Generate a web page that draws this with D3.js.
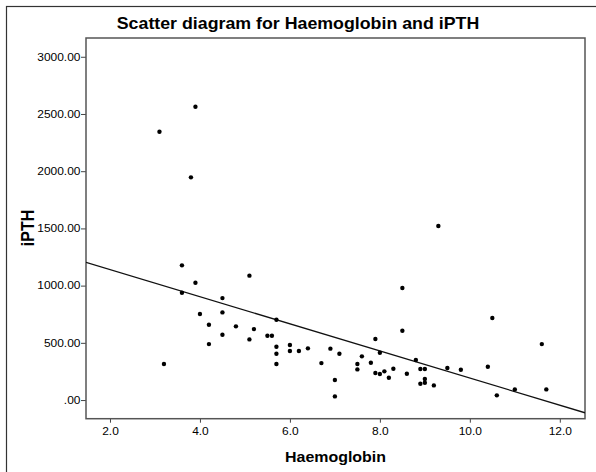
<!DOCTYPE html>
<html>
<head>
<meta charset="utf-8">
<script src="https://cdn.jsdelivr.net/npm/d3@7"></script>
<style>
  body { margin: 0; background: #fff; }
  text { font-family: "Liberation Sans", Arial, sans-serif; fill: #000; }
</style>
</head>
<body>
<svg id="chart"></svg>
<script>
// Haemoglobin (g/dl) and iPTH
var hb = [3.1, 3.9, 3.8, 3.6, 5.1, 3.9, 3.6, 4.5, 4.0, 4.5,
          4.2, 4.8, 5.2, 4.5, 5.1, 4.2, 3.2, 5.7, 5.5, 5.6,
          5.7, 5.7, 5.7, 6.0, 6.0, 6.2, 6.4, 6.7, 6.9, 7.1,
          7.0, 7.0, 7.5, 7.5, 7.6, 7.8, 7.9, 8.0, 7.9, 8.0,
          8.1, 8.2, 8.3, 8.5, 8.5, 8.6, 8.8, 8.9, 9.0, 9.0,
          9.0, 8.9, 9.2, 9.5, 9.8, 10.5, 10.4, 10.6, 11.0, 11.6,
          11.7, 9.3];
var ipth = [2345, 2563, 1946, 1177, 1087, 1025, 938, 891, 752, 766,
            658, 644, 620, 571, 530, 489, 315, 702, 562, 562,
            466, 405, 315, 481, 428, 428, 452, 323, 449, 405,
            175, 32, 315, 268, 382, 326, 533, 414, 236, 227,
            251, 195, 274, 979, 606, 230, 350, 271, 271, 184,
            151, 143, 128, 280, 265, 717, 291, 41, 93, 489,
            93, 1521];

var xTicks = [2, 4, 6, 8, 10, 12];
var xTickLabels = ["2.0", "4.0", "6.0", "8.0", "10.0", "12.0"];
var yTicks = [0, 500, 1000, 1500, 2000, 2500, 3000];
var yTickLabels = [".00", "500.00", "1000.00", "1500.00", "2000.00", "2500.00", "3000.00"];

// fit line: intercept, slope
var fit = [1377, -118.5];

var W = 596, H = 472;
var sx = 1.14; // the original picture is a bit wide

var margin = {top: 38, left: 86},
    width = 499,
    height = 380.7;

var svg = d3.select("#chart")
  .attr("width", W)
  .attr("height", H);

// outer frame, runs off the right and bottom
svg.append("rect")
  .attr("x", 6.5).attr("y", 6.5)
  .attr("width", 620).attr("height", 500)
  .attr("fill", "none")
  .attr("stroke", "#333")
  .attr("stroke-width", 1.2);

svg.append("text")
  .attr("transform", "translate(298,29.3) scale(" + sx + ",1)")
  .attr("text-anchor", "middle")
  .style("font-size", "15.6px")
  .style("font-weight", "bold")
  .text("Scatter diagram for Haemoglobin and iPTH");

var g = svg.append("g").attr("transform", "translate(" + margin.left + "," + margin.top + ")");

var x = d3.scaleLinear().domain([1.467, 12.56]).range([0, width]);
var y = d3.scaleLinear().domain([-163, 3164]).range([height, 0]);

var xAxis = g.append("g")
  .attr("transform", "translate(0," + height + ")")
  .call(d3.axisBottom(x).tickValues(xTicks)
    .tickFormat(function(d, i) { return xTickLabels[i]; })
    .tickSize(4));
xAxis.select(".domain").remove();
xAxis.selectAll("line").attr("stroke", "#444");
xAxis.selectAll("text")
  .attr("y", 16.3).attr("dy", null)
  .attr("transform", "scale(" + sx + ",1)")
  .attr("font-size", null).attr("font-family", null)
  .style("font-size", "10.5px");
xAxis.attr("font-family", null).attr("font-size", null);
xAxis.selectAll(".tick").each(function() {
  // scale around the tick centre
  d3.select(this).select("text").attr("x", 0);
});

var yAxis = g.append("g")
  .call(d3.axisLeft(y).tickValues(yTicks)
    .tickFormat(function(d, i) { return yTickLabels[i]; })
    .tickSize(5));
yAxis.select(".domain").remove();
yAxis.attr("font-family", null).attr("font-size", null);
yAxis.selectAll("line").attr("stroke", "#444");
yAxis.selectAll("text")
  .attr("x", -5.5 / sx)
  .attr("transform", "scale(" + sx + ",1)")
  .style("font-size", "10.5px");

// plot box
g.append("rect")
  .attr("width", width).attr("height", height)
  .attr("fill", "none")
  .attr("stroke", "#555")
  .attr("stroke-width", 1.5);

g.append("clipPath").attr("id", "clip")
  .append("rect").attr("width", width).attr("height", height);

var xd = x.domain();
g.append("line")
  .attr("clip-path", "url(#clip)")
  .attr("x1", x(xd[0])).attr("y1", y(fit[0] + fit[1] * xd[0]))
  .attr("x2", x(xd[1])).attr("y2", y(fit[0] + fit[1] * xd[1]))
  .attr("stroke", "#111")
  .attr("stroke-width", 1.3);

g.selectAll(".dot")
  .data(d3.range(hb.length))
  .enter().append("circle")
    .attr("class", "dot")
    .attr("cx", function(i) { return x(hb[i]); })
    .attr("cy", function(i) { return y(ipth[i]); })
    .attr("r", 2.2)
    .attr("fill", "#000");

svg.append("text")
  .attr("transform", "translate(335.5,461.7) scale(" + sx + ",1)")
  .attr("text-anchor", "middle")
  .style("font-size", "14px")
  .style("font-weight", "bold")
  .text("Haemoglobin");

svg.append("text")
  .attr("transform", "translate(34,228) scale(" + sx + ",1) rotate(-90)")
  .attr("text-anchor", "middle")
  .style("font-size", "16px")
  .style("font-weight", "bold")
  .text("iPTH");
</script>
</body>
</html>
